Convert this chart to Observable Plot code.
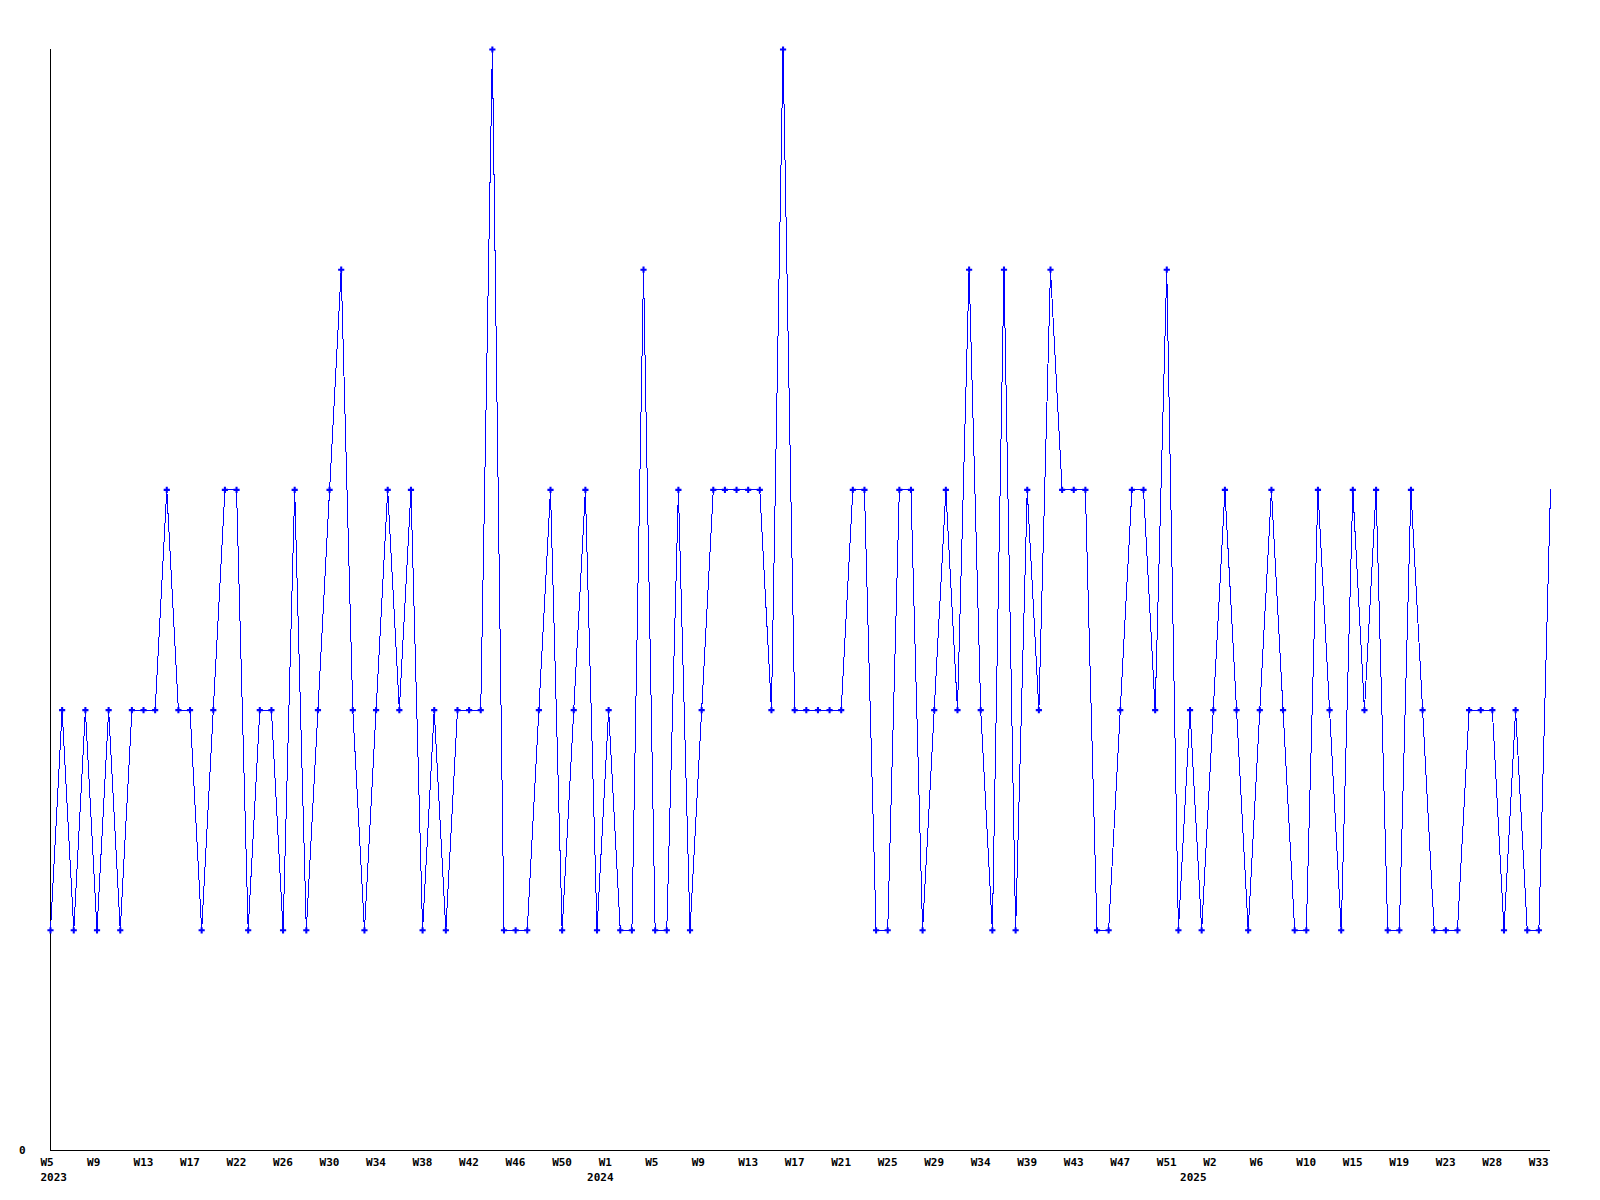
<!DOCTYPE html>
<html>
<head>
<meta charset="utf-8">
<script src="https://cdn.jsdelivr.net/npm/d3@7"></script>
<script src="https://cdn.jsdelivr.net/npm/@observablehq/plot@0.6"></script>
<style>
  html, body { margin: 0; padding: 0; background: #ffffff; }
  #chart svg { display: block; }
</style>
</head>
<body>
<div id="chart"></div>
<script>
// Week numbers (categories) per year, as labelled on the chart
const weeks2023 = [5,6,7,8,9,10,11,12,13,14,15,16,17,18,20,21,22,23,24,25,26,27,28,29,30,31,32,33,34,35,36,37,38,39,40,41,42,43,44,45,46,47,48,49,50,51,52];
const weeks2024 = [0,1,2,3,4,5,6,7,8,9,10,11,12,13,14,15,16,17,18,19,20,21,22,23,24,25,26,27,28,29,30,32,33,34,35,37,38,39,40,41,42,43,44,45,46,47,48,49,50,51,52];
const weeks2025 = [0,1,2,3,4,5,6,7,8,9,10,11,13,14,15,16,17,18,19,20,21,22,23,24,26,27,28,29,31,32,33,34];
const years = [2023, 2024, 2025];

// Series values, one per week
const values = [
  1,2,1,2,1,2,1,2,2,2,
  3,2,2,1,2,3,3,1,2,2,
  1,3,1,2,3,4,2,1,2,3,
  2,3,1,2,1,2,2,2,5,1,
  1,1,2,3,1,2,3,1,2,1,
  1,4,1,1,3,1,2,3,3,3,
  3,3,2,5,2,2,2,2,2,3,
  3,1,1,3,3,1,2,3,2,4,
  2,1,4,1,3,2,4,3,3,3,
  1,1,2,3,3,2,4,1,2,1,
  2,3,2,1,2,3,2,1,1,3,
  2,1,3,2,3,1,1,3,2,1,
  1,1,2,2,2,1,2,1,1,3
];

const weekLists = [weeks2023, weeks2024, weeks2025];
const rows = [];
weekLists.forEach((wk, yi) => {
  wk.forEach(w => rows.push({year: years[yi], week: w}));
});
rows.forEach((d, i) => { d.i = i; d.value = values[i]; });

const labelTicks = rows.filter(d => d.i % 4 === 0).map(d => d.i);
const yearTicks = years.map(y => rows.find(d => d.year === y).i);

const blue = "#0000ff";
const font = "'DejaVu Sans Mono', 'Liberation Mono', monospace";

const chart = Plot.plot({
  width: 1600,
  height: 1200,
  marginLeft: 50,
  marginRight: 50,
  marginTop: 49,
  marginBottom: 50,
  x: {type: "linear", domain: [0, rows.length - 1], axis: null},
  y: {domain: [0, 5], axis: null},
  style: {background: "#ffffff", fontFamily: font, fontSize: "11px", fontWeight: "bold", color: "#000"},
  marks: [
    Plot.ruleY([0], {stroke: "#000", strokeWidth: 1, shapeRendering: "crispEdges"}),
    Plot.ruleX([0], {stroke: "#000", strokeWidth: 1, shapeRendering: "crispEdges"}),
    Plot.line(rows, {x: "i", y: "value", stroke: blue, strokeWidth: 1, shapeRendering: "crispEdges"}),
    Plot.dot(rows.slice(0, -1), {x: "i", y: "value", symbol: "cross", fill: blue, r: 2.6}),
    Plot.axisX({
      ticks: labelTicks,
      tickFormat: i => "W" + rows[i].week,
      tickSize: 0,
      tickPadding: 8,
      textAnchor: "start",
      dx: -10,
      label: null,
      fontWeight: "bold"
    }),
    Plot.axisX({
      ticks: yearTicks,
      tickFormat: i => String(rows[i].year),
      tickSize: 0,
      tickPadding: 23,
      textAnchor: "start",
      dx: -10,
      label: null,
      fontWeight: "bold"
    }),
    Plot.axisY({ticks: [0], tickFormat: d => String(d), tickSize: 0, tickPadding: 25, label: null, fontWeight: "bold"})
  ]
});

document.getElementById("chart").appendChild(chart);
</script>
</body>
</html>
